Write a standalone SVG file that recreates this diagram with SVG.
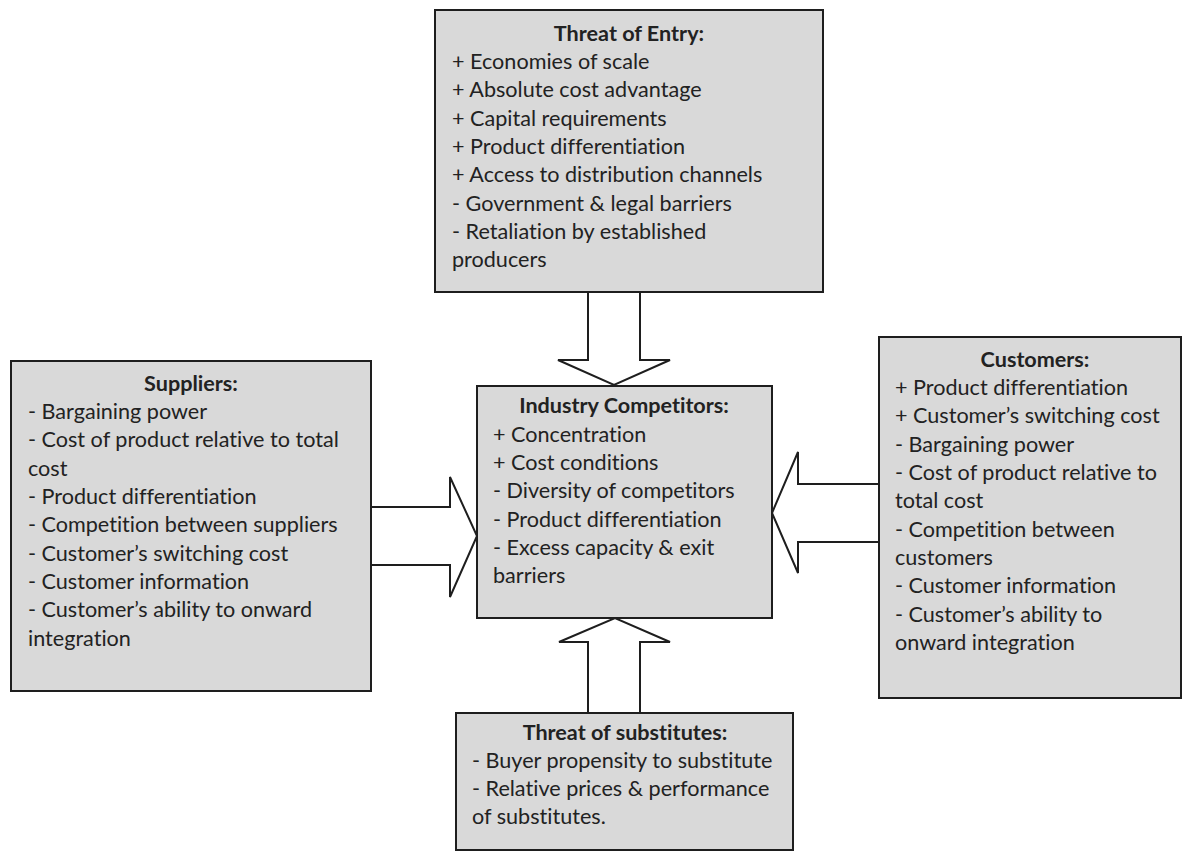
<svg xmlns="http://www.w3.org/2000/svg" width="1187" height="852" viewBox="0 0 1187 852">
  <style>
    .box { fill: #d9d9d9; stroke: #1e1e1e; stroke-width: 2; }
    .arrow { fill: #ffffff; stroke: #1e1e1e; stroke-width: 2; stroke-linejoin: miter; }
    text { font-family: "Lato", "Liberation Sans", sans-serif; font-size: 21.6px; fill: #222222; font-variant-ligatures: none; }
    .head { font-weight: bold; text-anchor: middle; }
  </style>
  <rect x="0" y="0" width="1187" height="852" fill="#ffffff"/>

  <!-- block arrows pointing into the central box -->
  <g id="connectors">
    <polygon class="arrow" points="588,292 640,292 640,360 670,360 614,385 558,360 588,360"/>
    <polygon class="arrow" points="371,507 450,507 450,477 477,536 450,597 450,565 371,565"/>
    <polygon class="arrow" points="879,484 798,484 798,452 772,513 798,573 798,542 879,542"/>
    <polygon class="arrow" points="588,713 588,642 559,642 615,618 670,642 640,642 640,713"/>
  </g>

  <g id="threat-of-entry">
    <rect class="box" x="435" y="10" width="388" height="282"/>
    <text class="head" x="629" y="41">Threat of Entry:</text>
    <text x="452" y="69">+ Economies of scale</text>
    <text x="452" y="97">+ Absolute cost advantage</text>
    <text x="452" y="126">+ Capital requirements</text>
    <text x="452" y="154">+ Product differentiation</text>
    <text x="452" y="182">+ Access to distribution channels</text>
    <text x="452" y="211">- Government &amp; legal barriers</text>
    <text x="452" y="239">- Retaliation by established</text>
    <text x="452" y="267">producers</text>
  </g>

  <g id="suppliers">
    <rect class="box" x="11" y="361" width="360" height="330"/>
    <text class="head" x="191" y="391">Suppliers:</text>
    <text x="28" y="419">- Bargaining power</text>
    <text x="28" y="447">- Cost of product relative to total</text>
    <text x="28" y="476">cost</text>
    <text x="28" y="504">- Product differentiation</text>
    <text x="28" y="532">- Competition between suppliers</text>
    <text x="28" y="561">- Customer’s switching cost</text>
    <text x="28" y="589">- Customer information</text>
    <text x="28" y="617">- Customer’s ability to onward</text>
    <text x="28" y="646">integration</text>
  </g>

  <g id="industry-competitors">
    <rect class="box" x="477" y="386" width="295" height="232"/>
    <text class="head" x="624" y="413">Industry Competitors:</text>
    <text x="493" y="442">+ Concentration</text>
    <text x="493" y="470">+ Cost conditions</text>
    <text x="493" y="498">- Diversity of competitors</text>
    <text x="493" y="527">- Product differentiation</text>
    <text x="493" y="555">- Excess capacity &amp; exit</text>
    <text x="493" y="583">barriers</text>
  </g>

  <g id="customers">
    <rect class="box" x="879" y="337" width="302" height="361"/>
    <text class="head" x="1035" y="367">Customers:</text>
    <text x="895" y="395">+ Product differentiation</text>
    <text x="895" y="423">+ Customer’s switching cost</text>
    <text x="895" y="452">- Bargaining power</text>
    <text x="895" y="480">- Cost of product relative to</text>
    <text x="895" y="508">total cost</text>
    <text x="895" y="537">- Competition between</text>
    <text x="895" y="565">customers</text>
    <text x="895" y="593">- Customer information</text>
    <text x="895" y="622">- Customer’s ability to</text>
    <text x="895" y="650">onward integration</text>
  </g>

  <g id="threat-of-substitutes">
    <rect class="box" x="456" y="713" width="337" height="137"/>
    <text class="head" x="625" y="740">Threat of substitutes:</text>
    <text x="472" y="768">- Buyer propensity to substitute</text>
    <text x="472" y="796">- Relative prices &amp; performance</text>
    <text x="472" y="824">of substitutes.</text>
  </g>
</svg>
